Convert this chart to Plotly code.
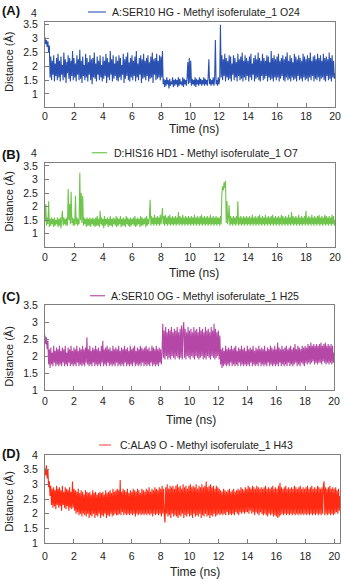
import plotly.graph_objects as go

# ---------------- data (0.05 ns sampling) ----------------
dist_A = [
    3.05, 2.8, 2.95, 2.7, 2.9, 2.5, 2.75, 1.6, 2.35, 1.5, 2.2, 1.7, 2.4, 1.45, 2.1, 1.65, 2.3, 1.5, 2.45, 1.6,
    2.2, 1.45, 2.35, 1.7, 2.05, 1.5, 2.5, 1.6, 2.25, 1.4, 2.15, 1.75, 2.4, 1.55, 2.3, 1.45, 2.2, 1.65, 2.55, 1.5,
    2.3, 1.6, 2.1, 1.45, 2.4, 1.7, 2.25, 1.5, 2.6, 1.55, 2.2, 1.4, 2.35, 1.65, 2.05, 1.5, 2.45, 1.6, 2.3, 1.45,
    2.15, 1.7, 2.4, 1.5, 2.25, 1.35, 2.3, 1.6, 2.5, 1.55, 2.1, 1.45, 2.35, 1.7, 2.2, 1.5, 2.4, 1.6, 2.05, 1.45,
    2.35, 1.55, 2.2, 1.65, 2.45, 1.4, 2.3, 1.6, 2.15, 1.5, 2.55, 1.7, 2.25, 1.45, 2.4, 1.55, 2.1, 1.65, 2.35, 1.5,
    2.2, 1.45, 2.4, 1.6, 2.3, 1.5, 2.05, 1.7, 2.45, 1.4, 2.25, 1.55, 2.35, 1.65, 2.5, 1.5, 2.15, 1.45, 2.3, 1.6,
    2.4, 1.5, 2.2, 1.65, 2.35, 1.45, 2.55, 1.6, 2.1, 1.5, 2.3, 1.7, 2.4, 1.4, 2.25, 1.55, 2.45, 1.6, 2.2, 1.5,
    2.3, 1.65, 2.4, 1.45, 2.15, 1.55, 2.35, 1.6, 2.5, 1.4, 2.25, 1.7, 2.3, 1.5, 2.45, 1.55, 2.2, 1.6, 2.4, 1.5,
    2.35, 1.6, 2.55, 1.35, 1.55, 1.25, 1.5, 1.3, 1.6, 1.35, 1.5, 1.2, 1.55, 1.3, 1.45, 1.35, 1.6, 1.25, 1.5, 1.3,
    1.55, 1.35, 1.5, 1.25, 1.6, 1.3, 1.55, 1.35, 1.45, 1.3, 1.6, 1.25, 1.55, 1.35, 1.5, 1.3, 1.6, 2.15, 1.35, 2.3,
    1.4, 2.2, 1.3, 1.55, 1.35, 1.5, 1.3, 1.6, 1.25, 1.55, 1.35, 1.5, 1.3, 1.6, 1.35, 1.55, 1.3, 1.5, 1.35, 1.6,
    1.3, 1.55, 1.35, 1.5, 1.3, 1.6, 2.25, 1.35, 1.55, 1.3, 1.5, 1.35, 1.6, 1.3, 1.55, 2.95, 1.35, 1.5, 1.3, 1.6,
    1.35, 1.55, 3.5, 1.6, 2.4, 1.5, 2.25, 1.65, 2.45, 1.45, 2.3, 1.6, 2.2, 1.5, 2.4, 1.55, 2.35, 1.45, 2.1, 1.7,
    2.4, 1.5, 2.3, 1.6, 2.15, 1.45, 2.45, 1.65, 2.25, 1.5, 2.35, 1.55, 2.5, 1.45, 2.2, 1.6, 2.4, 1.5, 2.3, 1.65,
    2.2, 1.45, 2.35, 1.6, 2.45, 1.5, 2.1, 1.7, 2.3, 1.45, 2.4, 1.55, 2.25, 1.6, 2.5, 1.5, 2.3, 1.45, 2.2, 1.65,
    2.45, 1.5, 2.3, 1.55, 2.2, 1.65, 2.4, 1.45, 2.35, 1.6, 2.15, 1.5, 2.55, 1.55, 2.3, 1.45, 2.4, 1.6, 2.25, 1.5,
    2.35, 1.6, 2.45, 1.45, 2.2, 1.55, 2.3, 1.65, 2.4, 1.5, 2.25, 1.45, 2.35, 1.6, 2.5, 1.5, 2.2, 1.55, 2.4, 1.45,
    2.3, 1.6, 2.15, 1.5, 2.45, 1.55, 2.35, 1.45, 2.25, 1.65, 2.4, 1.5, 2.3, 1.55, 2.2, 1.45, 2.45, 1.6, 2.35, 1.5,
    2.25, 1.55, 2.4, 1.45, 2.3, 1.6, 2.5, 1.5, 2.2, 1.65, 2.35, 1.45, 2.4, 1.55, 2.25, 1.5, 2.45, 1.6, 2.3, 1.45,
    2.4, 1.55, 2.2, 1.6, 2.45, 1.5, 2.3, 1.45, 2.35, 1.65, 2.25, 1.5, 2.5, 1.55, 2.3, 1.45, 2.4, 1.6, 2.2, 1.55,
    1.75]

dist_B = [
    1.45, 2.1, 1.3, 1.6, 1.35, 2.2, 1.25, 1.55, 1.3, 1.6, 1.35, 1.55, 1.25, 1.6, 1.3, 1.5, 1.35, 1.6, 1.25, 1.55,
    1.3, 1.6, 1.2, 1.55, 1.85, 1.3, 1.6, 1.35, 1.55, 1.3, 1.6, 1.3, 2.65, 1.5, 2.1, 1.35, 2.55, 1.4, 1.6, 1.3,
    1.55, 1.3, 2.4, 1.35, 1.6, 1.3, 1.55, 1.35, 3.25, 1.5, 2.5, 1.4, 2.4, 1.3, 1.6, 1.35, 1.55, 1.25, 1.6, 1.3,
    1.55, 1.3, 1.6, 1.25, 1.55, 1.35, 1.6, 1.3, 1.55, 1.25, 1.6, 1.3, 1.65, 1.3, 1.55, 1.25, 1.85, 1.35, 1.6, 1.3,
    1.55, 1.2, 1.65, 1.3, 1.55, 1.35, 1.6, 1.25, 1.55, 1.3, 1.65, 1.3, 1.55, 1.25, 1.6, 1.35, 1.55, 1.3, 1.65, 1.25,
    1.6, 1.3, 1.55, 1.35, 1.65, 1.25, 1.55, 1.3, 1.6, 1.3, 1.55, 1.25, 1.65, 1.35, 1.6, 1.3, 1.55, 1.25, 1.6, 1.3,
    1.55, 1.35, 1.6, 1.3, 1.65, 1.25, 1.55, 1.3, 1.6, 1.35, 1.55, 1.25, 1.65, 1.3, 1.6, 1.3, 1.55, 1.35, 1.6, 1.25,
    1.65, 1.3, 1.55, 1.35, 1.6, 2.25, 1.3, 1.65, 1.35, 1.6, 1.3, 1.7, 1.35, 1.6, 1.3, 1.65, 1.35, 1.6, 1.3, 1.7,
    1.35, 1.6, 1.95, 1.35, 1.65, 1.3, 1.7, 1.35, 1.6, 1.3, 1.65, 1.35, 1.7, 1.3, 1.6, 1.35, 1.65, 1.3, 1.6, 1.35,
    1.65, 1.3, 1.6, 1.35, 1.8, 1.3, 1.65, 1.35, 1.6, 1.3, 1.7, 1.35, 1.6, 1.3, 1.65, 1.35, 1.6, 1.3, 1.65, 1.35,
    1.6, 1.3, 1.65, 1.35, 1.6, 1.3, 1.7, 1.35, 1.6, 1.3, 1.65, 1.35, 1.6, 1.3, 1.65, 1.35, 1.7, 1.3, 1.6, 1.35,
    1.65, 1.3, 1.6, 1.35, 1.65, 1.3, 1.6, 1.35, 1.7, 1.3, 1.6, 1.35, 1.65, 1.3, 1.6, 1.35, 1.65, 1.3, 1.6, 1.35,
    1.6, 1.3, 1.65, 1.35, 2.5, 2.75, 2.6, 2.9, 2.7, 2.95, 1.4, 2.2, 1.35, 1.6, 2.05, 1.3, 1.65, 1.35, 1.6, 1.3,
    1.65, 1.35, 1.6, 1.3, 1.65, 1.35, 2.2, 1.3, 1.6, 1.35, 1.65, 1.3, 1.6, 1.35, 1.65, 1.3, 1.6, 1.35, 1.65, 1.3,
    1.6, 1.35, 1.65, 1.3, 1.6, 1.35, 1.7, 1.3, 1.6, 1.35, 1.65, 1.3, 1.6, 1.35, 1.65, 1.3, 1.7, 1.35, 1.6, 1.3,
    1.65, 1.35, 1.6, 1.3, 1.7, 1.35, 1.6, 1.3, 1.65, 1.35, 1.6, 1.3, 1.65, 1.35, 1.7, 1.3, 1.6, 1.35, 1.65, 1.3,
    1.6, 1.35, 1.65, 1.3, 1.6, 1.35, 1.7, 1.3, 1.65, 1.35, 1.6, 1.3, 1.65, 1.35, 1.6, 1.3, 1.7, 1.35, 1.6, 1.3,
    1.8, 1.35, 1.65, 1.3, 1.6, 1.35, 1.65, 1.3, 1.6, 1.35, 1.7, 1.3, 1.6, 1.35, 1.65, 1.3, 1.6, 1.35, 1.65, 1.3,
    1.85, 1.35, 1.6, 1.3, 1.65, 1.35, 1.6, 1.3, 1.7, 1.35, 1.6, 1.3, 1.65, 1.35, 1.6, 1.3, 1.65, 1.35, 1.7, 1.3,
    1.6, 1.35, 1.65, 1.3, 1.6, 1.35, 1.7, 1.3, 1.65, 1.35, 1.6, 1.3, 1.65, 1.35, 1.6, 1.3, 1.7, 1.35, 1.65, 1.3,
    1.5]

dist_C = [
    2.6, 2.35, 2.55, 2.2, 2.45, 1.75, 2.2, 1.65, 2.25, 1.75, 2.1, 1.7, 2.3, 1.8, 2.15, 1.7, 2.25, 1.75, 2.2, 1.7,
    2.3, 1.75, 2.15, 1.7, 2.25, 1.8, 2.2, 1.7, 2.3, 1.75, 2.1, 1.7, 2.25, 1.8, 2.2, 1.7, 2.3, 1.75, 2.15, 1.7,
    2.25, 1.75, 2.2, 1.7, 2.3, 1.8, 2.15, 1.7, 2.25, 1.75, 2.2, 1.7, 2.3, 1.75, 2.2, 1.7, 2.25, 1.8, 2.55, 1.75,
    2.2, 1.7, 2.3, 1.75, 2.15, 1.7, 2.25, 1.8, 2.2, 1.7, 2.3, 1.75, 2.2, 1.7, 2.25, 1.75, 2.15, 1.7, 2.3, 1.8,
    2.45, 1.7, 2.2, 1.75, 2.25, 1.7, 2.3, 1.8, 2.2, 1.7, 2.25, 1.75, 2.15, 1.7, 2.3, 1.75, 2.2, 1.7, 2.25, 1.8,
    2.2, 1.7, 2.3, 1.75, 2.15, 1.7, 2.25, 1.75, 2.2, 1.7, 2.3, 1.8, 2.2, 1.7, 2.25, 1.75, 2.15, 1.7, 2.3, 1.75,
    2.2, 1.7, 2.25, 1.8, 2.3, 1.7, 2.15, 1.75, 2.25, 1.7, 2.2, 1.75, 2.3, 1.7, 2.25, 1.8, 2.2, 1.7, 2.25, 1.75,
    2.3, 1.7, 2.2, 1.75, 2.25, 1.7, 2.15, 1.8, 2.3, 1.7, 2.25, 1.75, 2.2, 1.7, 2.3, 1.75, 2.2, 1.7, 2.25, 1.8,
    2.2, 1.75, 2.1, 2.95, 1.95, 2.75, 1.9, 2.85, 2.0, 2.7, 1.9, 2.8, 1.95, 2.75, 1.9, 2.85, 2.0, 2.7, 1.95, 2.8,
    1.9, 2.75, 2.0, 2.85, 1.95, 2.7, 1.9, 2.8, 1.95, 2.9, 1.9, 2.75, 3.0, 1.95, 2.8, 1.9, 2.7, 2.0, 2.85, 1.95,
    2.75, 1.9, 2.8, 2.0, 2.7, 1.95, 2.85, 1.9, 2.75, 2.0, 2.8, 1.95, 2.7, 1.9, 2.85, 1.95, 2.75, 2.0, 2.8, 1.9,
    2.7, 1.95, 2.85, 1.9, 2.75, 2.0, 2.8, 1.95, 2.7, 1.9, 2.85, 2.0, 2.75, 1.95, 2.95, 1.9, 2.8, 1.95, 2.7, 2.0,
    2.75, 1.9, 2.6, 1.75, 2.2, 1.65, 2.25, 1.7, 2.15, 1.75, 2.3, 1.7, 2.2, 1.75, 2.25, 1.7, 2.2, 1.8, 2.3, 1.7,
    2.2, 1.75, 2.25, 1.7, 2.3, 1.75, 2.15, 1.7, 2.25, 1.8, 2.2, 1.7, 2.3, 1.75, 2.2, 1.7, 2.25, 1.75, 2.15, 1.7,
    2.3, 1.75, 2.2, 1.7, 2.25, 1.8, 2.2, 1.7, 2.3, 1.75, 2.15, 1.7, 2.25, 1.75, 2.2, 1.7, 2.3, 1.8, 2.2, 1.7,
    2.25, 1.75, 2.2, 1.7, 2.3, 1.75, 2.15, 1.7, 2.25, 1.8, 2.2, 1.7, 2.3, 1.75, 2.25, 1.7, 2.2, 1.75, 2.3, 1.7,
    2.2, 1.75, 2.4, 1.7, 2.25, 1.8, 2.2, 1.7, 2.3, 1.75, 2.2, 1.7, 2.25, 1.75, 2.3, 1.7, 2.2, 1.8, 2.25, 1.7,
    2.3, 1.75, 2.2, 1.7, 2.25, 1.75, 2.35, 1.8, 2.2, 1.7, 2.3, 1.75, 2.25, 1.7, 2.2, 1.8, 2.3, 1.75, 2.25, 1.7,
    2.3, 1.8, 2.25, 1.75, 2.35, 1.8, 2.3, 1.75, 2.4, 1.8, 2.3, 1.85, 2.35, 1.75, 2.3, 1.8, 2.35, 1.75, 2.3, 1.8,
    2.35, 1.8, 2.4, 1.75, 2.3, 1.85, 2.35, 1.8, 2.4, 1.75, 2.3, 1.8, 2.35, 1.75, 2.3, 1.8, 2.35, 1.75, 2.3, 1.8,
    2.1]

dist_D = [
    3.55, 3.3, 3.65, 3.2, 3.5, 2.9, 3.1, 2.6, 2.95, 2.3, 2.85, 2.2, 2.9, 2.25, 2.8, 2.15, 2.95, 2.3, 2.85, 2.2,
    2.9, 2.25, 2.8, 2.1, 2.95, 2.3, 2.75, 2.2, 2.9, 2.15, 2.85, 2.25, 2.8, 2.1, 2.9, 2.2, 2.75, 2.15, 3.1, 2.2,
    2.85, 2.1, 2.8, 2.0, 2.75, 2.05, 2.85, 1.95, 2.7, 2.0, 2.8, 1.9, 2.75, 2.0, 2.65, 1.95, 2.8, 1.9, 2.75, 2.0,
    2.7, 1.85, 2.75, 1.95, 2.65, 1.9, 2.8, 2.0, 2.7, 1.85, 2.75, 1.95, 2.65, 1.9, 2.7, 2.0, 2.75, 1.85, 2.7, 1.95,
    2.75, 1.9, 2.65, 2.0, 2.8, 1.85, 2.7, 1.95, 2.75, 1.9, 2.8, 2.0, 2.7, 1.9, 2.85, 1.95, 2.75, 2.0, 2.8, 1.95,
    2.85, 1.95, 2.8, 2.0, 3.15, 1.95, 2.75, 2.05, 2.85, 1.95, 2.8, 2.0, 2.75, 1.95, 2.85, 2.0, 2.7, 1.95, 2.8, 2.0,
    2.75, 1.95, 2.85, 2.0, 2.8, 1.9, 2.75, 2.0, 2.85, 1.95, 2.8, 2.0, 2.7, 1.95, 2.85, 2.0, 2.8, 1.95, 2.75, 2.0,
    2.85, 1.95, 2.8, 2.0, 2.9, 1.95, 2.75, 2.0, 2.85, 1.9, 2.8, 2.0, 2.9, 1.95, 2.85, 2.0, 2.8, 1.95, 2.9, 2.0,
    2.85, 1.9, 2.95, 2.0, 2.85, 1.95, 1.7, 2.9, 2.0, 3.0, 1.9, 2.85, 1.95, 2.95, 1.85, 2.9, 2.0, 2.95, 1.9, 2.85,
    1.95, 2.95, 1.9, 3.0, 1.85, 2.9, 1.95, 2.95, 1.9, 2.85, 2.0, 3.0, 1.85, 2.9, 1.95, 2.95, 1.9, 2.85, 2.0, 2.95,
    1.9, 3.0, 1.95, 2.9, 1.85, 2.95, 2.0, 2.9, 1.9, 3.0, 1.95, 2.85, 1.9, 2.95, 2.0, 2.9, 1.85, 3.0, 1.95, 2.9,
    1.9, 2.95, 2.0, 3.1, 1.9, 2.9, 1.95, 2.95, 1.85, 3.0, 1.95, 2.9, 1.9, 2.95, 2.0, 2.85, 1.9, 2.95, 1.95, 2.9,
    2.0, 2.85, 1.95, 2.8, 2.0, 2.75, 1.95, 2.85, 2.0, 2.8, 1.95, 2.75, 2.05, 2.8, 1.95, 2.85, 2.0, 2.75, 1.95, 2.8,
    2.0, 2.85, 1.95, 2.75, 2.05, 2.8, 2.0, 2.85, 1.95, 2.8, 2.05, 2.9, 2.0, 2.85, 2.05, 2.8, 2.0, 2.9, 2.05, 2.85,
    2.05, 2.95, 2.0, 2.9, 2.1, 2.85, 2.0, 2.95, 2.05, 2.9, 1.95, 2.85, 2.05, 2.95, 2.0, 2.9, 1.95, 2.85, 2.05, 2.9,
    2.0, 2.85, 1.95, 2.9, 2.0, 2.95, 1.95, 2.85, 1.9, 2.9, 2.0, 2.85, 1.95, 2.9, 2.0, 2.95, 1.9, 2.85, 1.95, 2.9,
    1.9, 2.85, 1.85, 2.95, 1.9, 3.05, 1.95, 2.9, 2.0, 2.85, 1.95, 2.9, 2.0, 2.95, 1.95, 2.85, 2.0, 2.9, 1.95, 2.85,
    2.0, 2.9, 1.95, 2.85, 2.0, 2.95, 1.95, 2.9, 2.0, 2.85, 1.95, 2.9, 2.0, 2.95, 1.95, 2.85, 2.0, 2.9, 1.95, 2.85,
    2.0, 2.9, 1.95, 2.95, 2.0, 2.85, 1.95, 2.9, 2.0, 2.95, 1.95, 2.85, 2.0, 2.9, 1.95, 2.85, 2.0, 2.95, 1.95, 2.9,
    2.0, 2.85, 1.95, 2.9, 2.0, 2.95, 3.1, 1.95, 2.9, 2.0, 2.85, 1.95, 2.9, 2.0, 2.95, 1.95, 2.85, 2.0, 2.9, 1.95,
    2.85, 2.0, 2.9, 2.05, 2.8, 2.0, 2.85, 2.1, 2.6]

TIME_STEP_NS = 0.05
series_names = ["A:SER10 HG - Methyl isoferulate_1 O24",
                "D:HIS16 HD1 - Methyl isoferulate_1 O7",
                "A:SER10 OG - Methyl isoferulate_1 H25",
                "C:ALA9 O - Methyl isoferulate_1 H43"]
panel_labels = ["(A)", "(B)", "(C)", "(D)"]
x_ticks = [0, 2, 4, 6, 8, 10, 12, 14, 16, 18, 20]
y_ticks_AB = [1, 1.5, 2, 2.5, 3, 3.5]
y_ticks_C = [1, 1.5, 2, 2.5, 3, 3.5]
y_ticks_D = [1, 1.5, 2, 2.5, 3, 3.5, 4]

# ---------------- styling ----------------
W, H = 345, 579
colors = ["#2a50b2", "#6fc44c", "#b548a6", "#ff2a12"]
legend_colors = ["#4b6fc2", "#7ccb5c", "#bf5eb3", "#ff6a5a"]
FONT = "Liberation Sans, Arial, sans-serif"
GRAY = "#7f7f7f"

def px_x(p):
    return p / W

def px_y(p):
    return 1 - p / H

# panel geometry in pixels: (left, right, top, bottom)
boxes = [(45, 335, 22, 107), (45, 335, 163, 247), (45, 334, 305, 390), (45, 340, 455, 543)]
y_ranges = [[0.53, 3.6], [0.51, 3.61], [1, 3.5], [1, 4]]
x_ranges = [[0, 20], [0, 20], [0, 20], [0, 20.4]]
y_tickvals = [y_ticks_AB, y_ticks_AB, y_ticks_C, y_ticks_D]
xlab_standoff = [-1, 0, 1, 3]

fig = go.Figure()
all_data = [dist_A, dist_B, dist_C, dist_D]
for i, d in enumerate(all_data):
    t = [round(k * TIME_STEP_NS, 2) for k in range(len(d))]
    sfx = "" if i == 0 else str(i + 1)
    fig.add_trace(go.Scatter(x=t, y=d, mode="lines", name=series_names[i],
                             line=dict(color=colors[i], width=1.1, simplify=False),
                             xaxis="x" + sfx, yaxis="y" + sfx, showlegend=False))

layout = dict(width=W, height=H, margin=dict(l=0, r=0, t=0, b=0, autoexpand=False),
              paper_bgcolor="white", plot_bgcolor="white",
              font=dict(family=FONT, size=10.5, color="#222"))
annotations = []
shapes = []
for i in range(4):
    l, r, t, b = boxes[i]
    sfx = "" if i == 0 else str(i + 1)
    layout["xaxis" + sfx] = dict(domain=[px_x(l), px_x(r)], anchor="y" + sfx, automargin=False,
                                 range=x_ranges[i], tickvals=x_ticks, ticks="inside",
                                 ticklen=4, tickcolor=GRAY, showline=True, linecolor=GRAY,
                                 linewidth=1, mirror=True, showgrid=False, zeroline=False,
                                 ticklabelstandoff=xlab_standoff[i],
                                 tickfont=dict(family=FONT, size=10.5, color="#222"))
    layout["yaxis" + sfx] = dict(domain=[px_y(b), px_y(t)], anchor="x" + sfx, automargin=False,
                                 range=y_ranges[i], tickvals=y_tickvals[i], ticks="inside",
                                 ticklen=4, tickcolor=GRAY, showline=True, linecolor=GRAY,
                                 linewidth=1, mirror=True, showgrid=False, zeroline=False,
                                 ticklabelstandoff=4,
                                 tickfont=dict(family=FONT, size=10.5, color="#222"))

# extra "4" tick labels above the box in A and B
for ty in [12.5, 152.7]:
    annotations.append(dict(text="4", xref="paper", yref="paper", x=px_x(38.5), y=px_y(ty),
                            xanchor="right", yanchor="middle", showarrow=False,
                            font=dict(family=FONT, size=10.5, color="#222")))

# panel labels
for lab, ty in zip(panel_labels, [11, 154, 296.7, 453]):
    annotations.append(dict(text="<b>" + lab + "</b>", xref="paper", yref="paper",
                            x=0, y=px_y(ty), xanchor="left", yanchor="middle", showarrow=False,
                            font=dict(family=FONT, size=13, color="#111")))

# legends (line sample + text)
legend_pos = [(88, 106, 110, 12), (92, 107, 112, 152.7), (90, 105, 109, 295.7), (99, 111, 118, 445)]
for i, (x0, x1, tx, ty) in enumerate(legend_pos):
    shapes.append(dict(type="line", xref="paper", yref="paper", x0=px_x(x0), x1=px_x(x1),
                       y0=px_y(ty), y1=px_y(ty), line=dict(color=legend_colors[i], width=1.3)))
    annotations.append(dict(text=series_names[i], xref="paper", yref="paper", x=px_x(tx),
                            y=px_y(ty), xanchor="left", yanchor="middle", showarrow=False,
                            font=dict(family=FONT, size=10.5, color="#222")))

# axis titles
xt_pos = [(194, 129), (194, 272.7), (191, 420), (195, 571.7)]
yt_pos = [62, 201.7, 356.7, 501.7]
for i in range(4):
    annotations.append(dict(text="Time (ns)", xref="paper", yref="paper", x=px_x(xt_pos[i][0]),
                            y=px_y(xt_pos[i][1]), xanchor="center", yanchor="middle",
                            showarrow=False, font=dict(family=FONT, size=12, color="#222")))
    annotations.append(dict(text="Distance (Å)", xref="paper", yref="paper", x=px_x(9),
                            y=px_y(yt_pos[i]), xanchor="center", yanchor="middle", textangle=-90,
                            showarrow=False, font=dict(family=FONT, size=11, color="#222")))

layout["annotations"] = annotations
layout["shapes"] = shapes
fig.update_layout(**layout)
fig.write_html("out.html")
